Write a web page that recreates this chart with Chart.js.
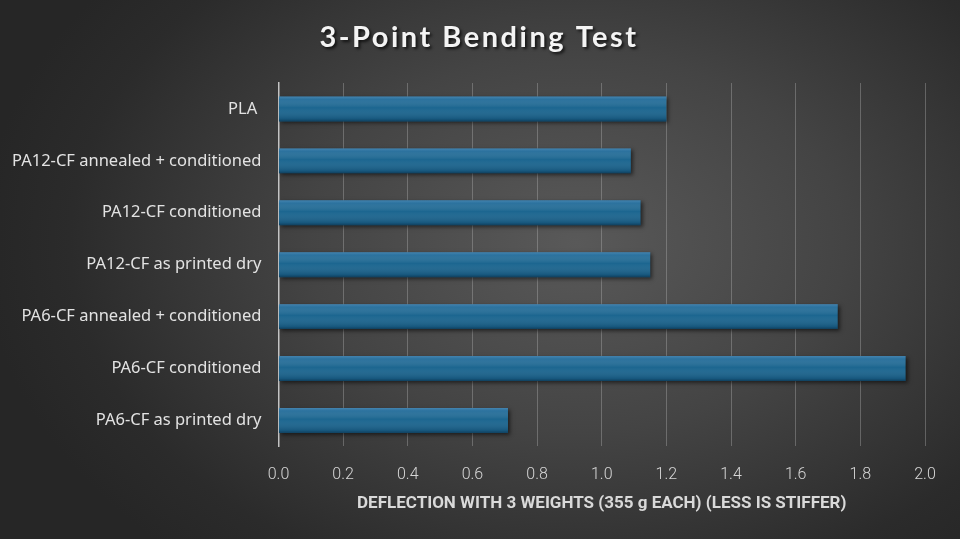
<!DOCTYPE html>
<html>
<head>
<meta charset="utf-8">
<title>3-Point Bending Test</title>
<script src="https://cdn.jsdelivr.net/npm/chart.js@4.4.1/dist/chart.umd.min.js"></script>
<style>
    html, body {
        margin: 0;
        padding: 0;
        width: 960px;
        height: 539px;
        overflow: hidden;
    }
    body {
        background: radial-gradient(ellipse 62% 78% at 60% 45%, #595959 0%, #444444 45%, #2b2b2b 85%, #262626 100%);
    }
    #wrap {
        position: relative;
        width: 960px;
        height: 539px;
    }
</style>
</head>
<body>
<div id="wrap">
    <canvas id="bendChart"></canvas>
</div>
<script>
// ================================
// 3-Point Bending Test
// ================================

const chartTitle = '3-Point Bending Test';
const axisTitle = 'DEFLECTION WITH 3 WEIGHTS (355 g EACH) (LESS IS STIFFER)';

const categories = [
    'PLA ',
    'PA12-CF annealed + conditioned',
    'PA12-CF conditioned',
    'PA12-CF as printed dry',
    'PA6-CF annealed + conditioned',
    'PA6-CF conditioned',
    'PA6-CF as printed dry'
];

const deflection = [1.20, 1.09, 1.12, 1.15, 1.73, 1.94, 0.71];

const xTicks = [0.0, 0.2, 0.4, 0.6, 0.8, 1.0, 1.2, 1.4, 1.6, 1.8, 2.0];

// Title with spacing + shadow (Chart.js title has no letter spacing)
const titlePlugin = {
    id: 'spacedTitle',
    afterDraw(chart) {
        const ctx = chart.ctx;
        ctx.save();
        ctx.font = 'bold 29px Lato, "Open Sans", sans-serif';
        ctx.letterSpacing = '2.5px';
        ctx.textAlign = 'center';
        ctx.textBaseline = 'middle';
        ctx.shadowColor = 'rgba(0, 0, 0, 0.7)';
        ctx.shadowOffsetX = 2;
        ctx.shadowOffsetY = 2;
        ctx.shadowBlur = 3;
        ctx.fillStyle = '#f4f4f4';
        ctx.fillText(chartTitle, 479, 38);
        ctx.restore();
    }
};

// Soft drop shadow under bars, then a glossy overlay on each bar
const barStylePlugin = {
    id: 'barStyle',
    beforeDatasetsDraw(chart) {
        const ctx = chart.ctx;
        ctx.save();
        ctx.shadowColor = 'rgba(0, 0, 0, 0.55)';
        ctx.shadowOffsetX = 2;
        ctx.shadowOffsetY = 2;
        ctx.shadowBlur = 4;
    },
    afterDatasetsDraw(chart) {
        const ctx = chart.ctx;
        ctx.restore();
        const meta = chart.getDatasetMeta(0);
        meta.data.forEach(bar => {
            const p = bar.getProps(['x', 'y', 'base', 'height'], true);
            const top = p.y - p.height / 2;
            const g = ctx.createLinearGradient(0, top, 0, top + p.height);
            g.addColorStop(0, 'rgba(120, 170, 215, 0.45)');
            g.addColorStop(0.12, 'rgba(90, 150, 200, 0.25)');
            g.addColorStop(0.45, 'rgba(255, 255, 255, 0)');
            g.addColorStop(0.9, 'rgba(0, 20, 40, 0.18)');
            g.addColorStop(1, 'rgba(0, 15, 30, 0.45)');
            ctx.save();
            ctx.fillStyle = g;
            ctx.fillRect(p.base, top, p.x - p.base, p.height);
            ctx.restore();
        });
    }
};

document.addEventListener('DOMContentLoaded', () => {
    createBendChart();
});

function createBendChart() {
    const ctx = document.getElementById('bendChart').getContext('2d');

    new Chart(ctx, {
        type: 'bar',
        data: {
            labels: categories,
            datasets: [{
                label: 'Deflection',
                data: deflection,
                backgroundColor: '#1c6690',
                borderWidth: 0,
                barPercentage: 0.48,
                categoryPercentage: 1.0
            }]
        },
        options: {
            indexAxis: 'y',
            responsive: true,
            maintainAspectRatio: false,
            animation: false,
            layout: {
                padding: { top: 83, left: 3, right: 35, bottom: 25 }
            },
            scales: {
                x: {
                    min: 0,
                    max: 2.0,
                    afterBuildTicks: scale => {
                        scale.ticks = xTicks.map(v => ({ value: v }));
                    },
                    ticks: {
                        color: '#d6d6d6',
                        padding: 19,
                        font: { family: 'Roboto, "Noto Sans", sans-serif', size: 16, weight: '300' },
                        callback: v => Number(v).toFixed(1)
                    },
                    grid: {
                        color: 'rgba(190, 190, 190, 0.35)',
                        lineWidth: 1,
                        drawTicks: false
                    },
                    border: { display: false },
                    title: {
                        display: true,
                        text: axisTitle,
                        color: '#d9d9d9',
                        padding: { top: -10, bottom: 0 },
                        font: { family: 'Roboto, sans-serif', size: 17, weight: 'bold' }
                    }
                },
                y: {
                    grid: { display: false },
                    border: { display: true, color: '#c4c4c4', width: 1.5 },
                    ticks: {
                        color: '#e2e2e2',
                        padding: 9,
                        font: { family: '"Noto Sans", sans-serif', size: 16.5 }
                    }
                }
            },
            plugins: {
                legend: { display: false },
                title: { display: false },
                tooltip: { enabled: false }
            }
        },
        plugins: [titlePlugin, barStylePlugin]
    });
}
</script>
</body>
</html>
